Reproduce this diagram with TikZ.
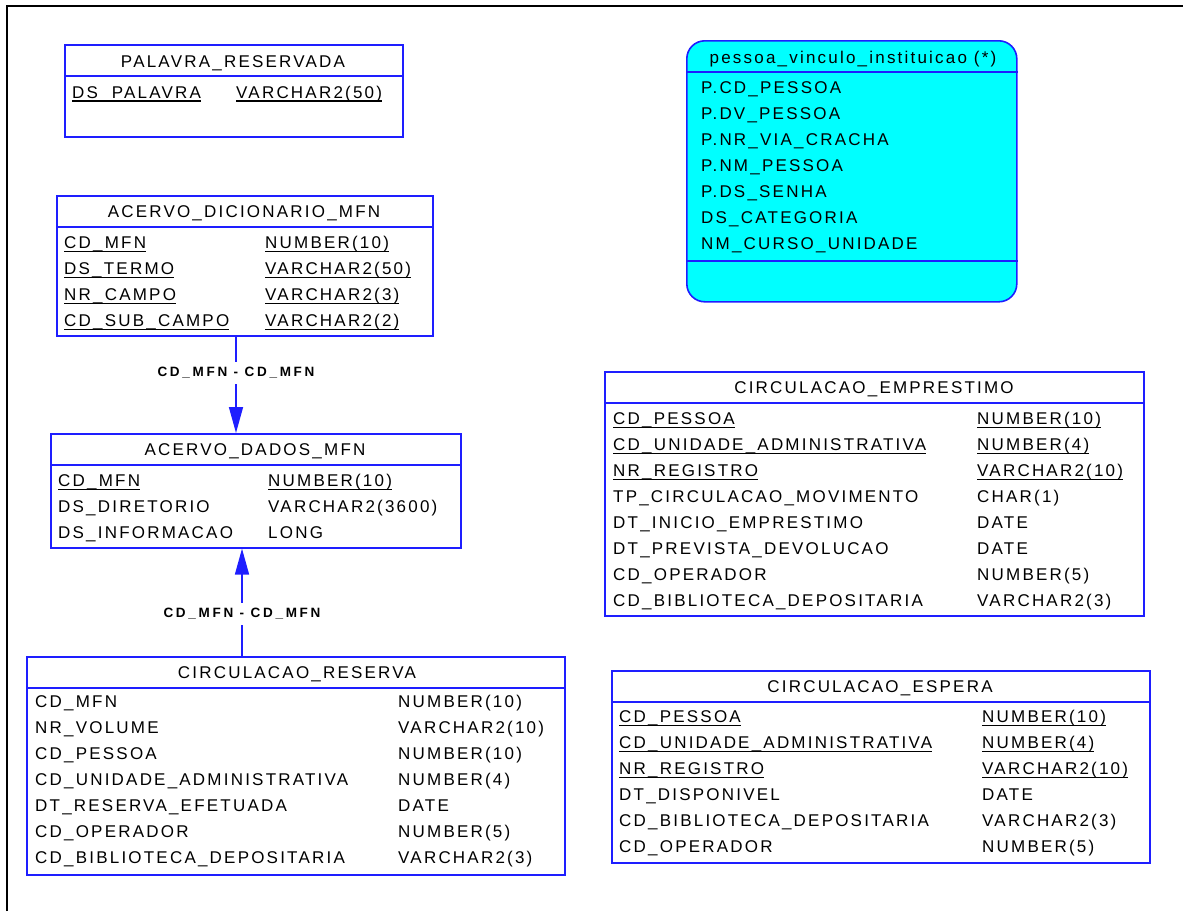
\documentclass[tikz,border=0pt]{standalone}
\usepackage{fontspec}
\usetikzlibrary{arrows.meta}
\newfontfamily\erfam[LetterSpace=13]{Liberation Sans}
\newfontfamily\relfam[LetterSpace=20]{Liberation Sans}
\newcommand\erf{\erfam\fontsize{17pt}{20pt}\selectfont}
\newcommand\relf{\relfam\bfseries\fontsize{13.5pt}{15pt}\selectfont}
% primary-key columns: underlined
\newcommand\pk[1]{\setbox0\hbox{#1}\rlap{\rule[-3.6pt]{\wd0}{1.2pt}}\box0}
\definecolor{erblue}{RGB}{30,30,255}
\definecolor{viewcyan}{RGB}{0,255,255}
\tikzset{
  tbl/.style={draw=erblue, line width=1.6pt, fill=white, inner sep=0pt, anchor=north west},
  viewbox/.style={tbl, fill=viewcyan, rounded corners=18pt},
  ttl/.style={font=\erf, inner sep=0pt, anchor=base},
  fld/.style={font=\erf, inner sep=0pt, anchor=base west},
  sepline/.style={draw=erblue, line width=1.6pt},
  rel/.style={draw=erblue, line width=1.6pt, -{Triangle[width=14pt,length=26pt]}},
  rlab/.style={font=\relf, fill=white, inner xsep=1pt, inner ysep=5pt},
}
\begin{document}
\begin{tikzpicture}[x=1pt,y=-1pt]
\useasboundingbox (0,0) rectangle (1183,911);
% sheet frame
\draw[black, line width=1.5pt] (7,911) -- (7,6) -- (1183,6);

% PALAVRA_RESERVADA
\node[tbl, minimum width=338pt, minimum height=92pt] (pal) at (64,44) {};
\node[ttl] (pal-t) at (233,67) {PALAVRA\_RESERVADA};
\draw[sepline] (pal.west |- 0,76) -- (pal.east |- 0,76);
\node[fld] (pal-n0) at (72,98) {\pk{DS\_PALAVRA}};
\node[fld] (pal-y0) at (236,98) {\pk{VARCHAR2(50)}};

% ACERVO_DICIONARIO_MFN
\node[tbl, minimum width=376pt, minimum height=140pt] (dic) at (56,195) {};
\node[ttl] (dic-t) at (244,217) {ACERVO\_DICIONARIO\_MFN};
\draw[sepline] (dic.west |- 0,227) -- (dic.east |- 0,227);
\foreach \nm/\ty [count=\i from 0] in {%
  \pk{CD\_MFN}/\pk{NUMBER(10)},
  \pk{DS\_TERMO}/\pk{VARCHAR2(50)},
  \pk{NR\_CAMPO}/\pk{VARCHAR2(3)},
  \pk{CD\_SUB\_CAMPO}/\pk{VARCHAR2(2)}}{
  \node[fld] (dic-n\i) at (64,{248.5+26*\i}) {\nm};
  \node[fld] (dic-y\i) at (265,{248.5+26*\i}) {\ty};
}

% ACERVO_DADOS_MFN
\node[tbl, minimum width=410pt, minimum height=114pt] (dados) at (50,433) {};
\node[ttl] (dados-t) at (255,455) {ACERVO\_DADOS\_MFN};
\draw[sepline] (dados.west |- 0,465) -- (dados.east |- 0,465);
\foreach \nm/\ty [count=\i from 0] in {%
  \pk{CD\_MFN}/\pk{NUMBER(10)},
  DS\_DIRETORIO/VARCHAR2(3600),
  DS\_INFORMACAO/LONG}{
  \node[fld] (dados-n\i) at (58,{486.5+26*\i}) {\nm};
  \node[fld] (dados-y\i) at (268,{486.5+26*\i}) {\ty};
}

% CIRCULACAO_RESERVA
\node[tbl, minimum width=538pt, minimum height=218pt] (res) at (26,656) {};
\node[ttl] (res-t) at (297,678) {CIRCULACAO\_RESERVA};
\draw[sepline] (res.west |- 0,688) -- (res.east |- 0,688);
\foreach \nm/\ty [count=\i from 0] in {%
  CD\_MFN/NUMBER(10),
  NR\_VOLUME/VARCHAR2(10),
  CD\_PESSOA/NUMBER(10),
  CD\_UNIDADE\_ADMINISTRATIVA/NUMBER(4),
  DT\_RESERVA\_EFETUADA/DATE,
  CD\_OPERADOR/NUMBER(5),
  CD\_BIBLIOTECA\_DEPOSITARIA/VARCHAR2(3)}{
  \node[fld] (res-n\i) at (35,{707.5+26*\i}) {\nm};
  \node[fld] (res-y\i) at (398,{707.5+26*\i}) {\ty};
}

% view pessoa_vinculo_instituicao
\node[viewbox, minimum width=330pt, minimum height=261pt] (pvi) at (686,40) {};
\node[ttl] (pvi-t) at (853,63) {pessoa\_vinculo\_instituicao (*)};
\draw[sepline] (pvi.west |- 0,72) -- (pvi.east |- 0,72);
\draw[sepline] (pvi.west |- 0,261) -- (pvi.east |- 0,261);
\foreach \nm [count=\i from 0] in {%
  P.CD\_PESSOA, P.DV\_PESSOA, P.NR\_VIA\_CRACHA, P.NM\_PESSOA,
  P.DS\_SENHA, DS\_CATEGORIA, NM\_CURSO\_UNIDADE}{
  \node[fld] (pvi-n\i) at (701,{93+26*\i}) {\nm};
}

% CIRCULACAO_EMPRESTIMO
\node[tbl, minimum width=539pt, minimum height=244pt] (emp) at (604,371) {};
\node[ttl] (emp-t) at (874,393) {CIRCULACAO\_EMPRESTIMO};
\draw[sepline] (emp.west |- 0,403) -- (emp.east |- 0,403);
\foreach \nm/\ty [count=\i from 0] in {%
  \pk{CD\_PESSOA}/\pk{NUMBER(10)},
  \pk{CD\_UNIDADE\_ADMINISTRATIVA}/\pk{NUMBER(4)},
  \pk{NR\_REGISTRO}/\pk{VARCHAR2(10)},
  TP\_CIRCULACAO\_MOVIMENTO/CHAR(1),
  DT\_INICIO\_EMPRESTIMO/DATE,
  DT\_PREVISTA\_DEVOLUCAO/DATE,
  CD\_OPERADOR/NUMBER(5),
  CD\_BIBLIOTECA\_DEPOSITARIA/VARCHAR2(3)}{
  \node[fld] (emp-n\i) at (613,{424.5+26*\i}) {\nm};
  \node[fld] (emp-y\i) at (977,{424.5+26*\i}) {\ty};
}

% CIRCULACAO_ESPERA
\node[tbl, minimum width=538pt, minimum height=192pt] (esp) at (611,670) {};
\node[ttl] (esp-t) at (880,692) {CIRCULACAO\_ESPERA};
\draw[sepline] (esp.west |- 0,702) -- (esp.east |- 0,702);
\foreach \nm/\ty [count=\i from 0] in {%
  \pk{CD\_PESSOA}/\pk{NUMBER(10)},
  \pk{CD\_UNIDADE\_ADMINISTRATIVA}/\pk{NUMBER(4)},
  \pk{NR\_REGISTRO}/\pk{VARCHAR2(10)},
  DT\_DISPONIVEL/DATE,
  CD\_BIBLIOTECA\_DEPOSITARIA/VARCHAR2(3),
  CD\_OPERADOR/NUMBER(5)}{
  \node[fld] (esp-n\i) at (619,{722.5+26*\i}) {\nm};
  \node[fld] (esp-y\i) at (982,{722.5+26*\i}) {\ty};
}

% foreign keys on CD_MFN
\coordinate (k1) at (236,0);
\coordinate (k2) at (242,0);
\draw[rel] (dic.south -| k1) -- (dados.north -| k1);
\node[rlab] (fk1) at (236,373) {CD\_MFN - CD\_MFN};
\draw[rel] (res.north -| k2) -- (dados.south -| k2);
\node[rlab] (fk2) at (242,614) {CD\_MFN - CD\_MFN};
\end{tikzpicture}
\end{document}
